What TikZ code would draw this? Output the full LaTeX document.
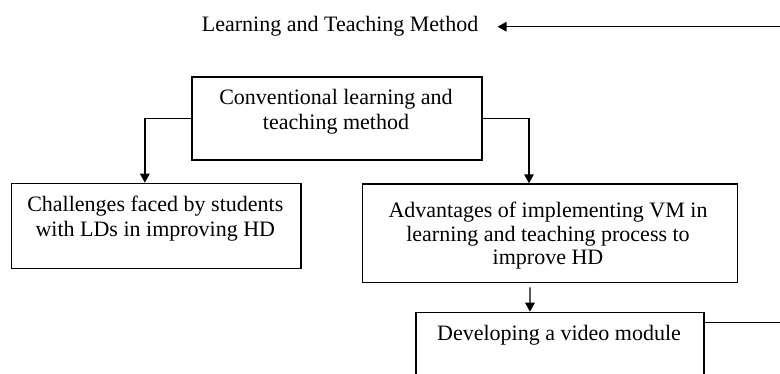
\documentclass[tikz,border=0pt]{standalone}
\usepackage{fontspec}
\setmainfont{Liberation Serif}
\usetikzlibrary{arrows.meta}
\begin{document}
\begin{tikzpicture}[x=1pt,y=-1pt,
  box/.style={draw, line width=1.6pt, inner sep=0pt, anchor=north west},
  txt/.style={inner sep=0pt, align=center, anchor=base},
  conn/.style={line width=1.4pt},
  arr/.style={conn, -{Triangle[length=9pt,width=9.5pt]}},
]
\path[use as bounding box] (0,0) rectangle (780,373);
\clip (0,0) rectangle (780,373);
\fill[white] (0,0) rectangle (780,373);

\node[txt, anchor=base west, font=\fontsize{22}{25}\selectfont] (title) at (201.7,31) {Learning and Teaching Method};

\node[box, minimum width=290pt, minimum height=83pt] (conv) at (191,76) {};
\node[box, minimum width=289.3pt, minimum height=85pt] (chal) at (10.7,182.7) {};
\node[box, minimum width=375pt, minimum height=98.4pt] (adv) at (361.7,183.3) {};
\node[box, minimum width=288.3pt, minimum height=100pt] (dev) at (415,311.7) {};

% anchor=base of a multi-line node is the baseline of its last line
\node[txt, font=\fontsize{22}{25.3}\selectfont] (convt) at (336,129.3) {Conventional learning and\\teaching method};
\node[txt, font=\fontsize{22}{25}\selectfont] (chalt) at (155.3,236.7) {Challenges faced by students\\with LDs in improving HD};
\node[txt, font=\fontsize{22}{23.3}\selectfont] (advt) at (548,264.3) {Advantages of implementing VM in\\learning and teaching process to\\improve HD};
\node[txt, font=\fontsize{22}{25}\selectfont] (devt) at (559,340) {Developing a video module};

\coordinate (tend) at (780,26.7);
\coordinate (rend) at (780,322.7);

\draw[arr] (conv.west) -| ([xshift=-11.3pt]chal.north);
\draw[arr] (conv.east) -| ([xshift=-21pt]adv.north);
\draw[arr] ([xshift=-20pt,yshift=-4pt]adv.south) -- ([xshift=-30pt]dev.north);
\draw[conn] (dev.east |- rend) -- (rend);
\draw[arr] (tend) -- ([xshift=19pt]title.east |- tend);
\end{tikzpicture}
\end{document}
